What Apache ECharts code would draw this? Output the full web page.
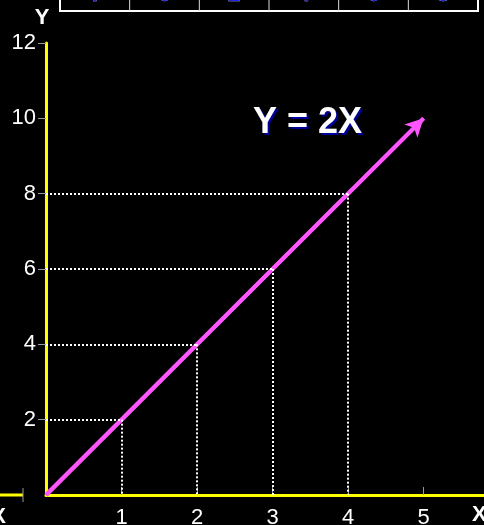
<!DOCTYPE html>
<html>
<head>
<meta charset="utf-8">
<script src="https://cdn.jsdelivr.net/npm/echarts@6/dist/echarts.min.js"></script>
<style>
  html, body { margin: 0; padding: 0; background: #000; }
  #myChart1 { width: 484px; height: 525px; }
</style>
</head>
<body>
<div id="myChart1"></div>
<script>
// 刻度
const xTicks = [1, 2, 3, 4, 5];
const yTicks = [2, 4, 6, 8, 10, 12];
// Y = 2X
const lineX = [0, 5];
const lineY = [0, 10];
// 虚线辅助点
const guideX = [1, 2, 3, 4];
const guideY = [2, 4, 6, 8];
// 顶部表格（被裁掉的那一行）
const tableRow = ['Y', '0', '2', '4', '6', '8'];

const font = 'Arial, "Liberation Sans", sans-serif';
const myChart1 = echarts.init(document.getElementById('myChart1'));

const guides = [];
guideX.forEach(function (x, i) {
  guides.push([{ coord: [0, guideY[i]] }, { coord: [x, guideY[i]] }]);
  guides.push([{ coord: [x, guideY[i]] }, { coord: [x, 0] }]);
});

// 表格边框和文字
const tableGraphic = [];
const tLeft = 60, tRight = 478, tBottom = 11;
const cellW = (tRight - tLeft) / tableRow.length;
tableGraphic.push({
  type: 'rect',
  shape: { x: tLeft, y: -40, width: tRight - tLeft, height: 40 + tBottom },
  style: { fill: '#000', stroke: '#fff', lineWidth: 2 }
});
tableRow.forEach(function (t, i) {
  if (i > 0) {
    tableGraphic.push({
      type: 'line',
      shape: { x1: tLeft + cellW * i, y1: -10, x2: tLeft + cellW * i, y2: tBottom },
      style: { stroke: '#ddd', lineWidth: 1 }
    });
  }
  tableGraphic.push({
    type: 'text',
    style: {
      text: t, x: tLeft + cellW * (i + 0.5), y: 6,
      textAlign: 'center', textVerticalAlign: 'bottom',
      font: 'bold 22px ' + font, fill: '#2222ee', stroke: '#ccccff', lineWidth: 0.5
    }
  });
});

myChart1.setOption({
  backgroundColor: '#000',
  animation: false,
  grid: { left: 46, right: 0, top: 43, bottom: 30, outerBoundsMode: 'none' },
  xAxis: {
    type: 'value',
    min: 0,
    max: 5.8,
    axisLine: { onZero: true, lineStyle: { color: '#ffff00', width: 3 } },
    axisTick: { show: true, inside: true, length: 8, customValues: xTicks, lineStyle: { color: '#999' } },
    axisLabel: { customValues: xTicks, color: '#fff', fontSize: 22, fontFamily: font, margin: 12 },
    splitLine: { show: false }
  },
  yAxis: {
    type: 'value',
    min: 0,
    max: 12,
    interval: 2,
    name: 'Y',
    nameLocation: 'end',
    nameGap: 14,
    nameTextStyle: { color: '#fff', fontSize: 22, fontWeight: 'bold', fontFamily: font, padding: [0, 8, 0, 0] },
    axisLine: { show: true, lineStyle: { color: '#ffff00', width: 3 } },
    axisTick: { show: true, length: 8, customValues: yTicks, lineStyle: { color: '#999' } },
    axisLabel: { customValues: yTicks, color: '#fff', fontSize: 22, fontFamily: font, margin: 10 },
    splitLine: { show: false }
  },
  series: [
    {
      type: 'line',
      data: lineX.map(function (x, i) { return [x, lineY[i]]; }),
      symbol: 'none',
      clip: false,
      lineStyle: { color: '#ff55ff', width: 4 },
      z: 3,
      markLine: {
        silent: true,
        symbol: ['none', 'arrow'],
        symbolSize: [14, 18],
        label: { show: false },
        lineStyle: { color: '#ff55ff', width: 4, type: 'solid' },
        data: [[{ coord: [lineX[0], lineY[0]] }, { coord: [lineX[1], lineY[1]] }]]
      }
    },
    {
      type: 'line',
      data: [],
      clip: false,
      z: 2,
      markLine: {
        silent: true,
        symbol: ['none', 'none'],
        label: { show: false },
        lineStyle: { color: '#fff', width: 2, type: 'dotted' },
        data: guides
      }
    }
  ],
  graphic: tableGraphic.concat([
    // 公式
    { type: 'text', style: { text: 'Y = 2X', x: 255, y: 125, textVerticalAlign: 'middle', font: 'bold 36px ' + font, fill: '#000099' } },
    { type: 'text', style: { text: 'Y = 2X', x: 253, y: 123, textVerticalAlign: 'middle', font: 'bold 36px ' + font, fill: '#fff' } },
    // 右下角 X
    { type: 'text', style: { text: 'X', x: 472, y: 515, textVerticalAlign: 'middle', font: 'bold 22px ' + font, fill: '#fff' } },
    // 左侧断开的负半轴
    { type: 'line', shape: { x1: 0, y1: 495, x2: 23, y2: 495 }, style: { stroke: '#ffff00', lineWidth: 3 } },
    { type: 'line', shape: { x1: 23, y1: 488, x2: 23, y2: 502 }, style: { stroke: '#999', lineWidth: 1 } },
    { type: 'text', style: { text: 'X', x: 6, y: 517, textAlign: 'right', textVerticalAlign: 'middle', font: 'bold 22px ' + font, fill: '#fff' } }
  ])
});

window.addEventListener('resize', function () {
  myChart1.resize();
});
</script>
</body>
</html>
